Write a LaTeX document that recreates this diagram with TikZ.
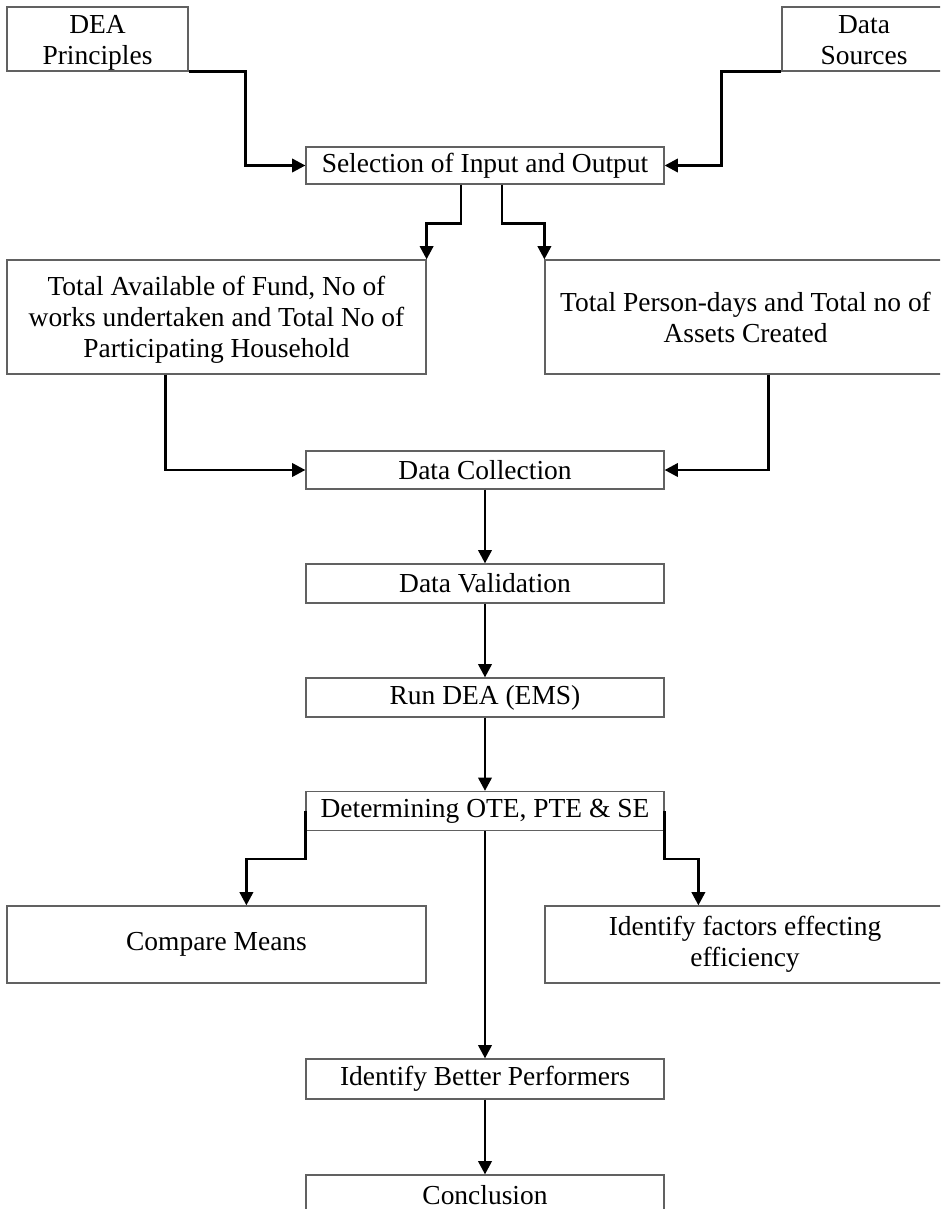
\documentclass[tikz,border=0pt]{standalone}
\usepackage{fontspec}
\setmainfont{Liberation Serif}
\usetikzlibrary{arrows.meta,calc}
\newcommand\dropped[2]{\raisebox{-#1}[\height][\depth]{\begin{tabular}{@{}c@{}}#2\end{tabular}}}
\begin{document}
\begin{tikzpicture}[x=0.75pt,y=-0.75pt,
  box/.style={draw=black!62, line width=0.9pt, align=center, inner sep=0pt,
    font=\fontsize{20.6}{23.2}\selectfont, text=black},
  mid/.style={box, minimum width=268.5pt, minimum height=29.25pt},
  wide/.style={box, minimum width=314.25pt},
  arr/.style={line width=2.1pt, -{Triangle[length=10pt,width=10pt]}}]
\useasboundingbox (0,0) rectangle (940,1209);
\clip (0,0) rectangle (940,1209);
\fill[white] (0,0) rectangle (940,1209);

\node[box, minimum width=135.75pt, minimum height=48pt] (dea) at (97.5,39) {\dropped{3pt}{DEA\\Principles}};
\node[box, minimum width=123pt, minimum height=48pt] (ds) at (864,39) {\dropped{3pt}{Data\\Sources}};
\node[mid, minimum height=27.75pt] (sel) at (485,165.5) {Selection of Input and Output};
\node[wide, minimum height=85.5pt] (lb) at (216.5,317) {\dropped{2.5pt}{Total Available of Fund, No of\\works undertaken and Total No of\\Participating Household}};
\node[box, minimum width=300.75pt, minimum height=85.5pt] (rb) at (745.5,317) {Total Person-days and Total no of\\Assets Created};
\node[mid, minimum height=28.5pt] (dc) at (485,470) {Data Collection};
\node[mid] (dv) at (485,583.5) {Data Validation};
\node[mid] (run) at (485,697.5) {Run DEA (EMS)};
\node[mid] (det) at (485,811) {Determining OTE, PTE \& SE};
\node[wide, minimum height=57.75pt] (cm) at (216.5,944.5) {Compare Means};
\node[box, minimum width=300pt, minimum height=57.75pt] (ifx) at (745,944.5) {Identify factors effecting\\efficiency};
\node[mid, minimum height=30pt] (ibp) at (485,1079) {Identify Better Performers};
\node[mid, minimum height=30pt] (con) at (485,1195) {Conclusion};

\draw[arr] (dea.south east) -- ++(57,0) |- (sel.west);
\draw[arr] (ds.south west) -- ++(-60,0) |- (sel.east);
\draw[arr] ($(sel.south)+(-24,0)$) -- ++(0,39) -| (lb.north east);
\draw[arr] ($(sel.south)+(17,0)$) -- ++(0,39) -| (rb.north west);
\draw[arr] ($(lb.south west)+(159,0)$) |- (dc.west);
\draw[arr] ($(rb.south west)+(224,0)$) |- (dc.east);
\draw[arr] (dc.south) -- (dv.north);
\draw[arr] (dv.south) -- (run.north);
\draw[arr] (run.south) -- (det.north);
\draw[arr] (det.west) -- ++(0,48) -| ($(cm.north west)+(240,0)$);
\draw[arr] (det.east) -- ++(0,48) -| ($(ifx.north west)+(154,0)$);
\draw[arr] (det.south) -- (ibp.north);
\draw[arr] (ibp.south) -- (con.north);
\end{tikzpicture}
\end{document}
